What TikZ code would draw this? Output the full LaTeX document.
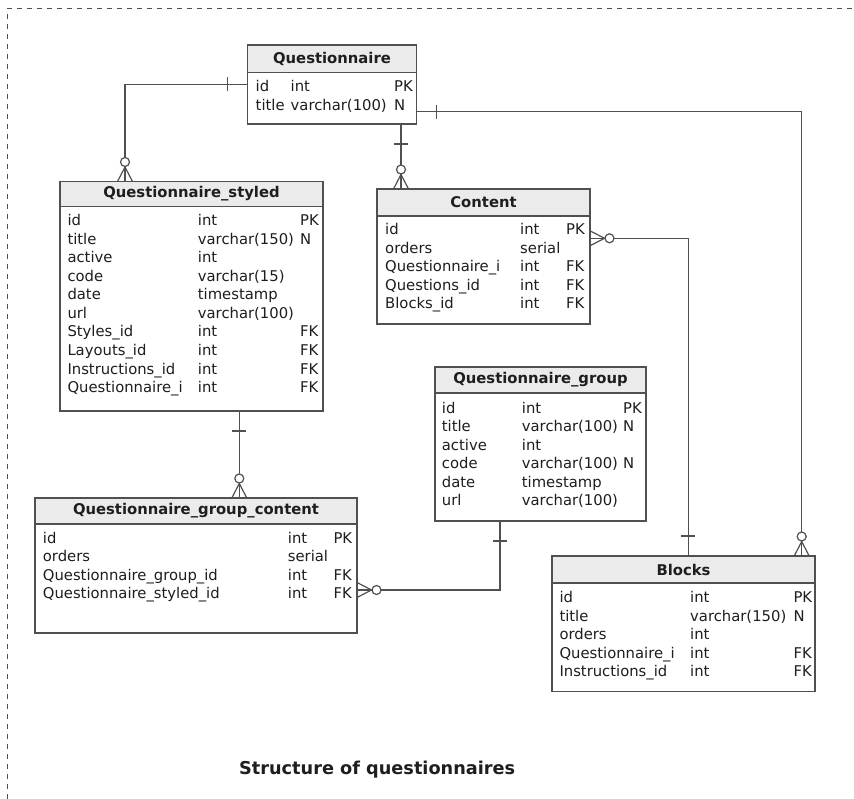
\documentclass[tikz,border=0pt]{standalone}
\usepackage{fontspec}
\setmainfont{DejaVu Sans}
\usetikzlibrary{calc}

\definecolor{edge}{HTML}{505050}
\definecolor{headfill}{HTML}{EBEBEB}
\definecolor{ink}{HTML}{1E1E1E}

\tikzset{
  tablebox/.style={draw=edge, line width=1.2pt, fill=white, anchor=north west,
    inner sep=0pt, outer sep=0pt},
  tablehead/.style={draw=edge, line width=1.2pt, fill=headfill, anchor=north west,
    inner sep=0pt, outer sep=0pt, text=ink,
    font=\fontsize{14.8}{17}\selectfont\bfseries},
  cell/.style={anchor=base west, inner sep=0pt, text=ink,
    font=\fontsize{14.8}{17}\selectfont},
  caption/.style={anchor=base west, inner sep=0pt, text=ink,
    font=\fontsize{17.7}{21}\selectfont\bfseries},
  link/.style={draw=edge, line width=1.2pt},
  frame/.style={draw=edge, line width=1pt, dash pattern=on 5pt off 5pt},
  % zero-or-many end: crow's foot plus open circle, pointing away from the box
  many/.pic={
    \draw[link] (0,-7.5) -- (14.5,0) -- (0,7.5);
    \draw[link] (0,0) -- (14.5,0);
    \draw[link, fill=white] (19.5,0) circle (4.5);
  },
  % exactly-one end: a single bar across the line
  one/.pic={
    \draw[link] (20,-7) -- (20,7);
  },
}

% rows of a table: #1 table, #2 first baseline, #3/#4/#5 column offsets, #6 rows
\newcommand{\erdrows}[6]{%
  \foreach \fn/\ft/\fk [count=\i] in {#6} {
    \node[cell] (#1-n\i) at ($(#1.north west)+(#3,#2+18.5*\i-18.5)$) {\fn};
    \node[cell] (#1-t\i) at ($(#1.north west)+(#4,#2+18.5*\i-18.5)$) {\ft};
    \node[cell] (#1-k\i) at ($(#1.north west)+(#5,#2+18.5*\i-18.5)$) {\fk};
  }%
}

\begin{document}
\begin{tikzpicture}[x=1pt, y=-1pt]
\useasboundingbox (0,0) rectangle (854,799);

% dashed enclosure
\draw[frame] (7.5,799) -- (7.5,8.5) -- (854,8.5);

% Questionnaire
\node[tablebox, minimum width=169pt, minimum height=79pt] (qn) at (247.5,45) {};
\node[tablehead, minimum width=169pt, minimum height=27.5pt] (qn-h) at (qn.north west) {Questionnaire};
\erdrows{qn}{46.7}{8}{43}{146.5}{id/int/PK, title/varchar(100)/N}

% Questionnaire_styled
\node[tablebox, minimum width=263pt, minimum height=229.5pt] (qs) at (60,181.5) {};
\node[tablehead, minimum width=263pt, minimum height=25pt] (qs-h) at (qs.north west) {Questionnaire\_styled};
\erdrows{qs}{44.5}{7.3}{137.7}{240}{id/int/PK, title/varchar(150)/N, active/int/{},
  code/varchar(15)/{}, date/timestamp/{}, url/varchar(100)/{}, Styles\_id/int/FK,
  Layouts\_id/int/FK, Instructions\_id/int/FK, Questionnaire\_i/int/FK}

% Content
\node[tablebox, minimum width=213pt, minimum height=135pt] (ct) at (377,189) {};
\node[tablehead, minimum width=213pt, minimum height=27pt] (ct-h) at (ct.north west) {Content};
\erdrows{ct}{46}{8}{143}{189}{id/int/PK, orders/serial/{}, Questionnaire\_i/int/FK,
  Questions\_id/int/FK, Blocks\_id/int/FK}

% Questionnaire_group
\node[tablebox, minimum width=211pt, minimum height=154pt] (qg) at (435,367) {};
\node[tablehead, minimum width=211pt, minimum height=26pt] (qg-h) at (qg.north west) {Questionnaire\_group};
\erdrows{qg}{46.3}{6.7}{86.7}{188}{id/int/PK, title/varchar(100)/N, active/int/{},
  code/varchar(100)/N, date/timestamp/{}, url/varchar(100)/{}}

% Questionnaire_group_content
\node[tablebox, minimum width=322pt, minimum height=135pt] (qgc) at (35,498) {};
\node[tablehead, minimum width=322pt, minimum height=26pt] (qgc-h) at (qgc.north west) {Questionnaire\_group\_content};
\erdrows{qgc}{45.3}{7.7}{252.7}{298.3}{id/int/PK, orders/serial/{},
  Questionnaire\_group\_id/int/FK, Questionnaire\_styled\_id/int/FK}

% Blocks
\node[tablebox, minimum width=263pt, minimum height=135.5pt] (bl) at (552,556) {};
\node[tablehead, minimum width=263pt, minimum height=27pt] (bl-h) at (bl.north west) {Blocks};
\erdrows{bl}{46.7}{7.3}{138}{241.3}{id/int/PK, title/varchar(150)/N, orders/int/{},
  Questionnaire\_i/int/FK, Instructions\_id/int/FK}

% relationships
\coordinate (qs-t) at ($(qs.north west)+(65,0)$);
\draw[link] (qn.west) -| (qs-t);
\pic[rotate=180] at (qn.west) {one};
\pic[rotate=90] at (qs-t) {many};

\draw[link] ($(qn.south west)+(153.5,0)$) coordinate (qn-b) -- (qn-b |- ct.north);
\pic[rotate=270] at (qn-b) {one};
\pic[rotate=90] at (qn-b |- ct.north) {many};

\coordinate (bl-t2) at ($(bl.north west)+(249.7,0)$);
\draw[link] ($(qn.north east)+(0,66.7)$) coordinate (qn-r) -| (bl-t2);
\pic at (qn-r) {one};
\pic[rotate=90] at (bl-t2) {many};

\coordinate (bl-t1) at ($(bl.north west)+(136.3,0)$);
\draw[link] ($(ct.north east)+(0,49.3)$) coordinate (ct-r) -| (bl-t1);
\pic at (ct-r) {many};
\pic[rotate=90] at (bl-t1) {one};

\draw[link] ($(qs.south west)+(179.3,0)$) coordinate (qs-b) -- (qs-b |- qgc.north);
\pic[rotate=270] at (qs-b) {one};
\pic[rotate=90] at (qs-b |- qgc.north) {many};

\draw[link] ($(qg.south west)+(65,0)$) coordinate (qg-b) |- ($(qgc.north east)+(0,92)$) coordinate (qgc-r);
\pic[rotate=270] at (qg-b) {one};
\pic at (qgc-r) {many};

% caption
\node[caption] (title) at (239,774.3) {Structure of questionnaires};
\end{tikzpicture}
\end{document}
